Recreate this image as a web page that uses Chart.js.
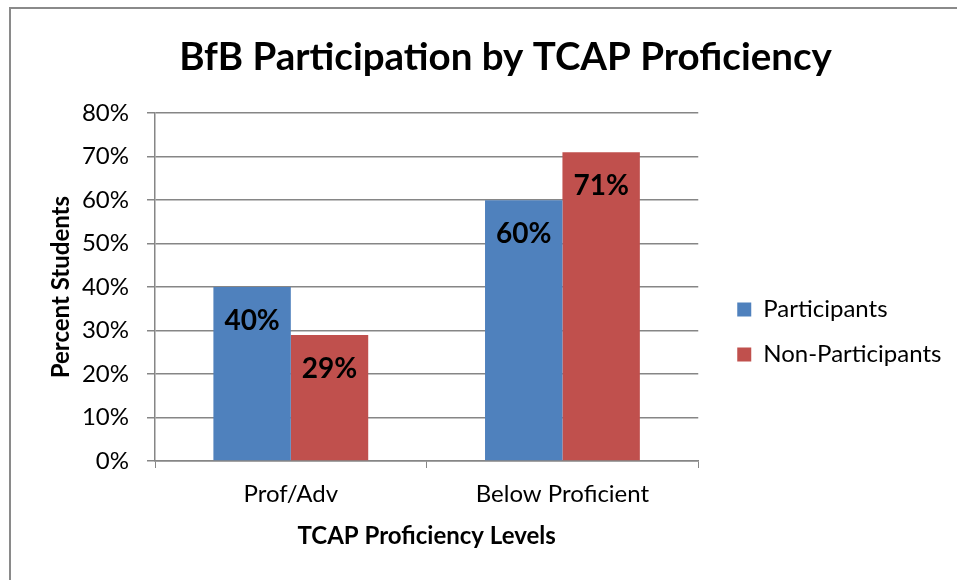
<!DOCTYPE html>
<html lang="en-US">
  <head>
    <meta charset="utf-8" />
    <title>BfB Participation by TCAP Proficiency</title>
    <script src="https://cdn.jsdelivr.net/npm/chart.js@4.4.0/dist/chart.umd.min.js"></script>
  </head>
  <body>
    <div class="frame">
      <canvas id="chart" width="946" height="571"></canvas>
    </div>
  </body>

  <style>
    body{
      margin: 0;
      background: #fff;
    }
    .frame{
      position: absolute;
      left: 9px;
      top: 7px;
      width: 946px;
      height: 571px;
      border-left: 2px solid #8a8a8a;
      border-top: 2px solid #8a8a8a;
    }
  </style>

  <script>
    const FONT = "Lato, 'Open Sans', sans-serif";

    // chart values
    const categories = ["Prof/Adv", "Below Proficient"];
    const participants = [40, 60];
    const nonParticipants = [29, 71];
    const seriesNames = ["Participants", "Non-Participants"];
    const yTicks = [0, 10, 20, 30, 40, 50, 60, 70, 80];

    // draws the bold value label inside the top of each bar
    const barLabels = {
      id: "barLabels",
      afterDatasetsDraw(chart) {
        const ctx = chart.ctx;
        ctx.save();
        ctx.font = "bold 28px " + FONT;
        ctx.fillStyle = "#000";
        ctx.textAlign = "center";
        ctx.textBaseline = "middle";
        chart.data.datasets.forEach((ds, i) => {
          chart.getDatasetMeta(i).data.forEach((bar, j) => {
            ctx.fillText(ds.data[j] + "%", bar.x, bar.y + 34);
          });
        });
        ctx.restore();
      }
    };

    // widens the legend box and nudges its items right, so there is a wider gap after the plot
    const wideLegend = {
      id: "wideLegend",
      beforeUpdate(chart) {
        const legend = chart.legend;
        if (legend && !legend._wide) {
          const fit = legend.fit;
          const draw = legend.draw;
          legend.fit = function () {
            fit.call(this);
            this.width += 42;
          };
          legend.draw = function () {
            this.left += 18;
            this.right += 18;
            draw.call(this);
            this.left -= 18;
            this.right -= 18;
          };
          legend._wide = true;
        }
      }
    };

    new Chart(document.getElementById("chart"), {
      type: "bar",
      data: {
        labels: categories,
        datasets: [
          {
            label: seriesNames[0],
            data: participants,
            backgroundColor: "#4f81bd"
          },
          {
            label: seriesNames[1],
            data: nonParticipants,
            backgroundColor: "#c0504d"
          }
        ]
      },
      options: {
        responsive: false,
        animation: false,
        layout: {
          padding: { left: 25, right: -18, top: 20, bottom: 14 }
        },
        datasets: {
          bar: { categoryPercentage: 0.57, barPercentage: 1.0 }
        },
        plugins: {
          title: {
            display: true,
            text: "BfB Participation by TCAP Proficiency",
            color: "#000",
            font: { family: FONT, size: 38.5, weight: "bold" },
            padding: { top: 5, bottom: 33 }
          },
          legend: {
            position: "right",
            title: {
              display: true,
              text: " ",
              font: { size: 10 },
              padding: { top: 57, bottom: 0 }
            },
            labels: {
              color: "#000",
              font: { family: FONT, size: 24 },
              boxWidth: 14,
              boxHeight: 14,
              padding: 21
            }
          },
          tooltip: { enabled: false }
        },
        scales: {
          x: {
            afterFit: (axis) => { axis.height = 105; },
            grid: {
              offset: true,
              drawOnChartArea: false,
              drawTicks: true,
              tickLength: 7,
              color: "#868686"
            },
            border: { color: "#868686", width: 1.5 },
            ticks: {
              color: "#000",
              font: { family: FONT, size: 24 },
              padding: 12
            },
            title: {
              display: true,
              text: "TCAP Proficiency Levels",
              color: "#000",
              font: { family: FONT, size: 24, weight: "bold" },
              padding: { top: 0, bottom: 15 }
            }
          },
          y: {
            min: 0,
            max: 80,
            afterFit: (axis) => { axis.width = 119; },
            afterBuildTicks: (axis) => {
              axis.ticks = yTicks.map((v) => ({ value: v }));
            },
            grid: {
              color: "#868686",
              lineWidth: 1.5,
              tickLength: 8
            },
            border: { color: "#868686", width: 1.5 },
            ticks: {
              color: "#000",
              font: { family: FONT, size: 24 },
              padding: 18,
              callback: (v) => v + "%"
            },
            title: {
              display: true,
              text: "Percent Students",
              color: "#000",
              font: { family: FONT, size: 24, weight: "bold" },
              padding: { top: 11, bottom: 0 }
            }
          }
        }
      },
      plugins: [barLabels, wideLegend]
    });
  </script>
</html>
